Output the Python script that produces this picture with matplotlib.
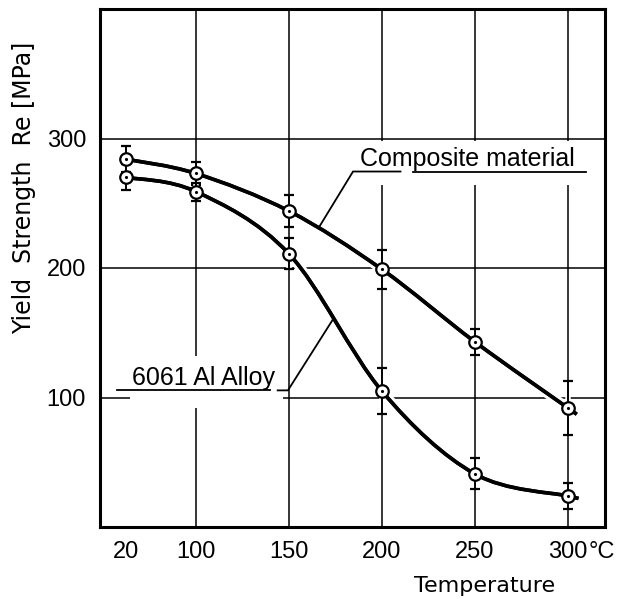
import numpy as np
import matplotlib
matplotlib.use("Agg")
import matplotlib.pyplot as plt
import matplotlib.patheffects as pe
from matplotlib.path import Path
from matplotlib.patches import PathPatch, Rectangle
from matplotlib.transforms import IdentityTransform

# data
temps = [20, 100, 150, 200, 250, 300]
composite = [284, 273, 244, 199, 143, 92]
composite_err = [10, 9, 12.5, 15, 10, 21]
alloy = [270, 259, 211, 105, 41, 24]
alloy_err = [10, 7, 12, 18, 12, 10]

grid_temps = [100, 150, 200, 250, 300]
grid_vals = [100, 200, 300]
x_tick_labels = ["20", "100", "150", "200", "250", "300"]
y_tick_labels = ["100", "200", "300"]

plt.rcParams["font.family"] = ["Liberation Sans", "DejaVu Sans"]
FS = 18
TICK_FS = 17


# the drawing squeezes 20..100 into a shorter span than the rest
def fwd(t):
    t = np.asarray(t, dtype=float)
    return np.where(t >= 100, 1 + (t - 100) / 50.0, 1 - (100 - t) * 0.009375)


def inv(p):
    p = np.asarray(p, dtype=float)
    return np.where(p >= 1, 100 + (p - 1) * 50.0, 100 - (1 - p) / 0.009375)


fig = plt.figure(figsize=(6.26, 5.99), dpi=100)
ax = fig.add_axes([100 / 626, 1 - 527 / 599, 505 / 626, 518 / 599])
ax.set_xscale("function", functions=(fwd, inv))
ax.set_xlim(-10, 320)
ax.set_ylim(0, 400)
ax.set_autoscale_on(False)

# grid
for t in grid_temps:
    ax.axvline(t, color="black", lw=1.1, zorder=1)
for v in grid_vals:
    ax.axhline(v, color="black", lw=1.1, zorder=1)


def smooth_curve(xs, ys, ext=11):
    # catmull-rom through the points, built in display space
    P = ax.transData.transform(np.column_stack([xs, ys]))
    n = len(P)
    verts = [P[0]]
    codes = [Path.MOVETO]
    for i in range(n - 1):
        p0 = P[i - 1] if i > 0 else P[i]
        p3 = P[i + 2] if i + 2 < n else P[i + 1]
        verts += [P[i] + (P[i + 1] - p0) / 6, P[i + 1] - (p3 - P[i]) / 6, P[i + 1]]
        codes += [Path.CURVE4] * 3
    d = P[-1] - P[-2]
    verts.append(P[-1] + ext * d / np.hypot(*d))
    codes.append(Path.LINETO)
    return Path(verts, codes)


for vals, errs in [(composite, composite_err), (alloy, alloy_err)]:
    patch = PathPatch(smooth_curve(temps, vals), transform=IdentityTransform(),
                      fill=False, lw=2.6, edgecolor="black", zorder=4,
                      capstyle="butt")
    patch.set_path_effects([pe.withStroke(linewidth=7, foreground="white"), pe.Normal()])
    ax.add_patch(patch)
    eb = ax.errorbar(temps, vals, yerr=errs, fmt="o", ms=9, mfc="white",
                     mec="black", mew=1.6, ecolor="black", elinewidth=1.2,
                     capsize=3.8, capthick=1.2, zorder=5)
    for lc in eb[2]:
        lc.set_path_effects([pe.withStroke(linewidth=4, foreground="white"), pe.Normal()])
    ax.plot(temps, vals, ".", ms=2.5, color="black", zorder=6)

# white patches behind the labels break the grid as in the drawing
ax.add_patch(Rectangle((183, 264), 313 - 183, 298 - 264, facecolor="white",
                       edgecolor="none", zorder=2))
ax.add_patch(Rectangle((24, 92), 147 - 24, 132 - 92, facecolor="white",
                       edgecolor="none", zorder=2))

# labels with leader lines
ax.text(246, 279, "Composite material", fontsize=FS, ha="center", va="baseline", zorder=6)
ax.plot([166, 184.5, 210], [231, 274.5, 274.5], color="black", lw=1.3, zorder=5,
        solid_joinstyle="miter")
ax.plot([217, 310], [274.5, 274.5], color="black", lw=1.3, zorder=5)

ax.text(104, 109.5, "6061 Al Alloy", fontsize=FS, ha="center", va="baseline", zorder=6)
ax.plot([9, 140], [105.5, 105.5], color="black", lw=1.3, zorder=5)
ax.plot([144, 149.5, 174], [105.5, 105.5, 161], color="black", lw=1.3, zorder=5,
        solid_joinstyle="miter")

# axes
ax.set_xticks(temps)
ax.set_xticklabels(x_tick_labels)
ax.set_yticks(grid_vals)
ax.set_yticklabels(y_tick_labels)
ax.tick_params(length=0, labelsize=TICK_FS)
ax.tick_params(axis="x", pad=10)
ax.tick_params(axis="y", pad=10)
ax.annotate("°C", xy=(300, 0), xycoords=("data", "axes fraction"),
            xytext=(15, -10), textcoords="offset points", fontsize=TICK_FS,
            ha="left", va="top", annotation_clip=False)
for s in ax.spines.values():
    s.set_linewidth(2.2)
    s.set_zorder(7)

ax.set_ylabel("Yield  Strength  Re [MPa]", fontsize=17, family="DejaVu Sans")
ax.yaxis.set_label_coords(-0.127, 0.654)
ax.set_xlabel("Temperature", fontsize=16, family="DejaVu Sans")
ax.xaxis.set_label_coords(0.762, -0.094)

fig.savefig("out.png", dpi=100)
